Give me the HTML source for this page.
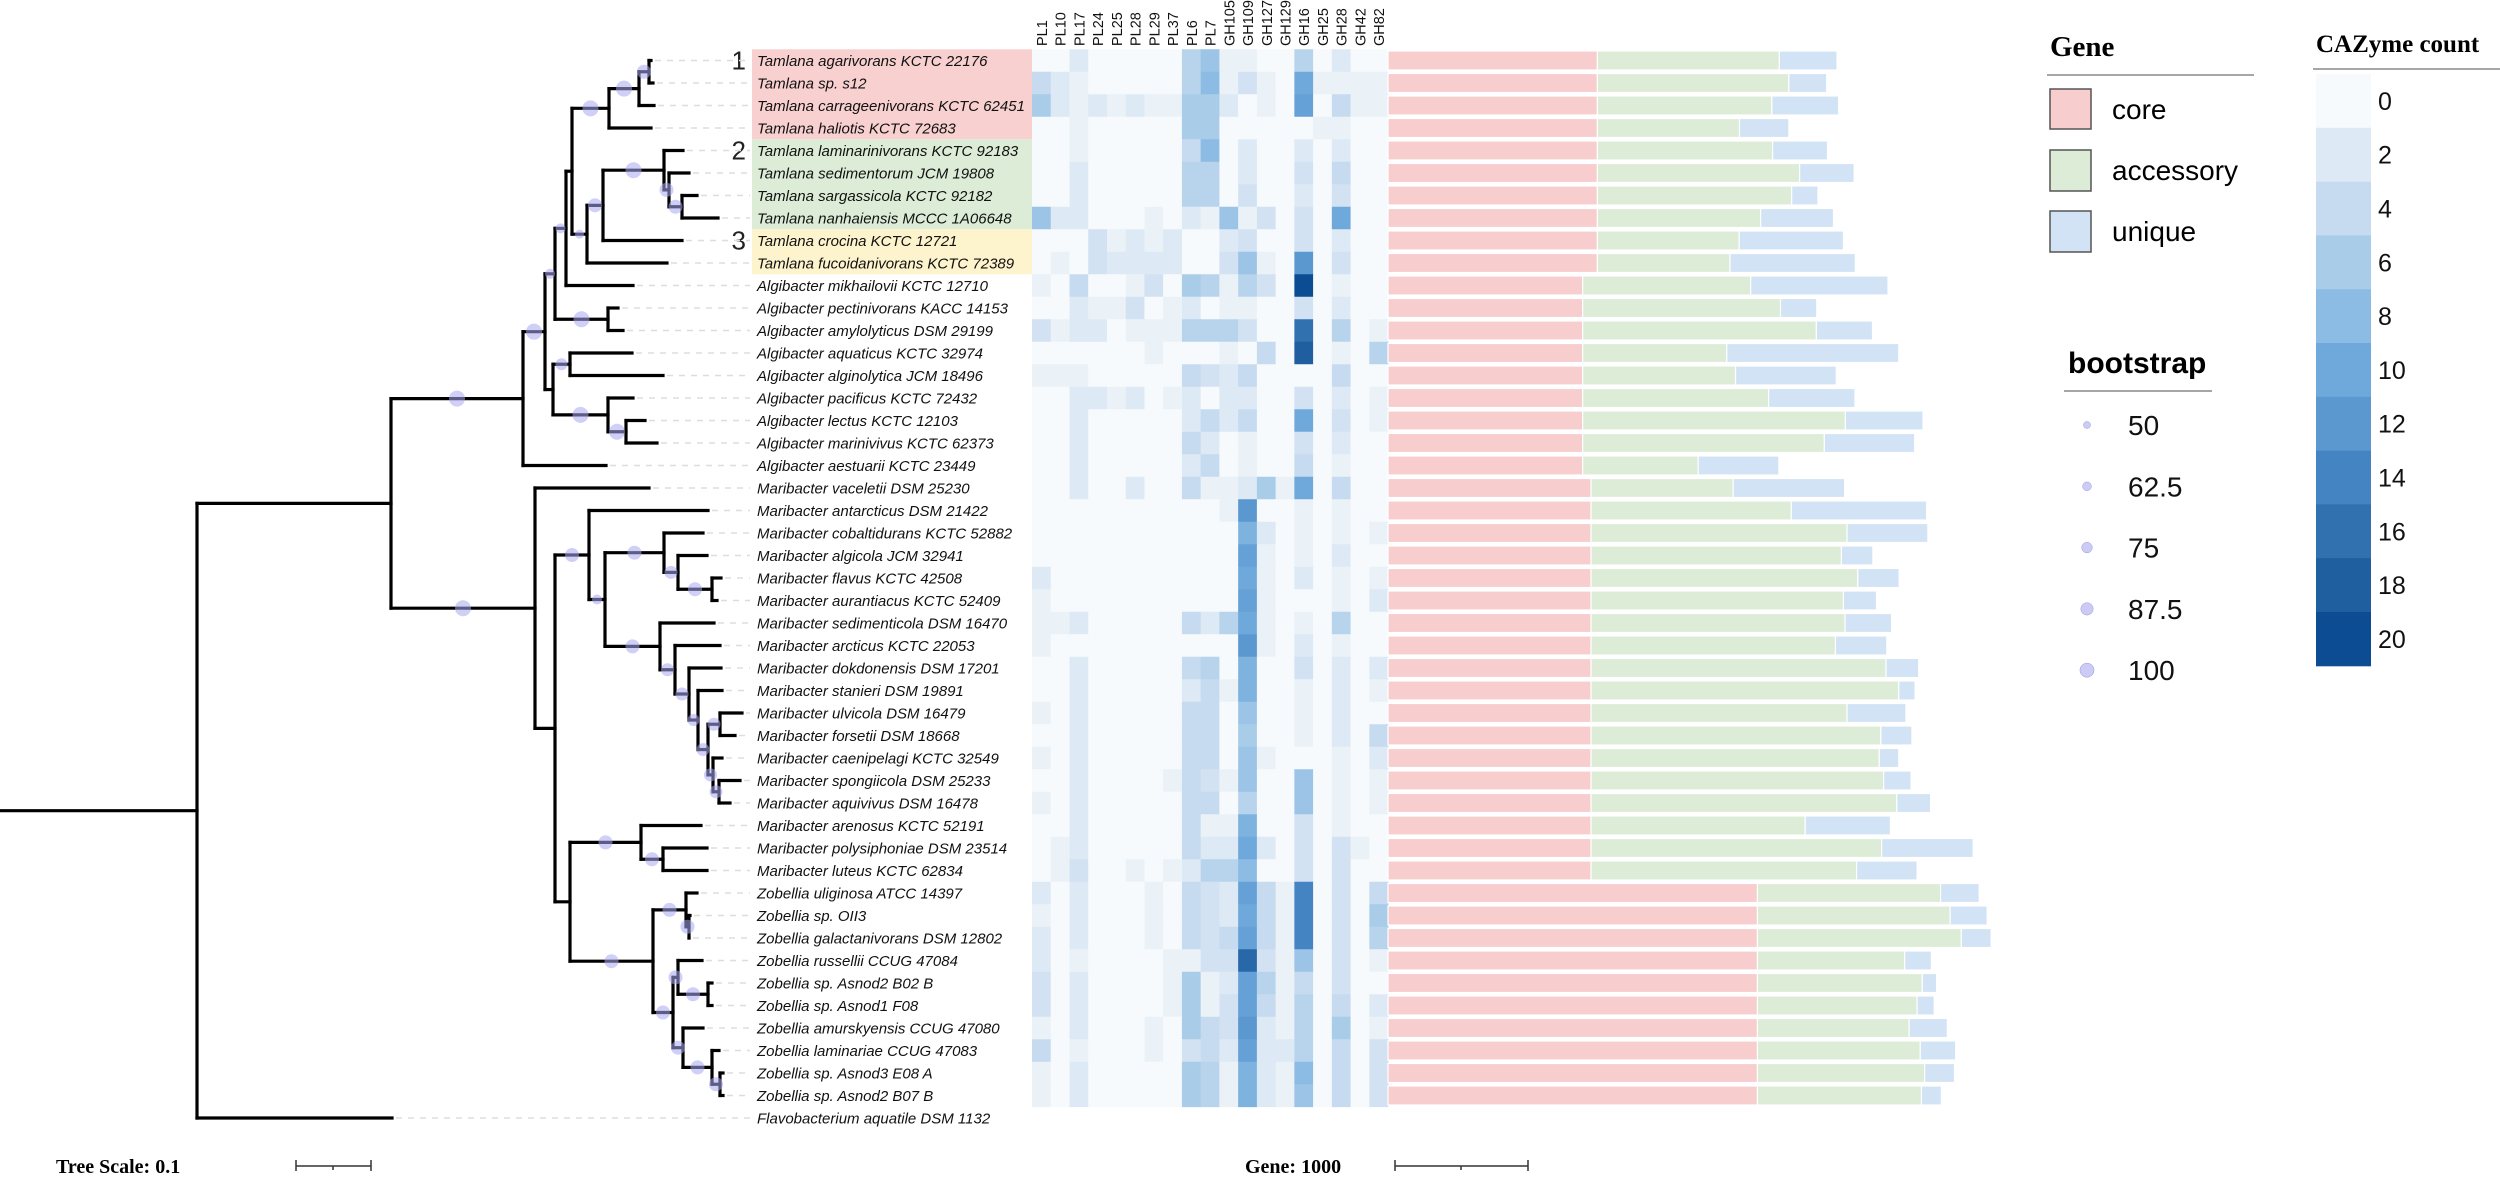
<!DOCTYPE html>
<html><head><meta charset="utf-8">
<style>
html,body{margin:0;padding:0;background:#fff;}
svg{display:block;font-family:"Liberation Sans",sans-serif;}
</style></head>
<body>
<svg id="fig" width="2500" height="1185" viewBox="0 0 2500 1185" xmlns="http://www.w3.org/2000/svg">
  <g id="clades"></g>
  <g id="tree"></g>
  <g id="labels"></g>
  <g id="heat"></g>
  <g id="bars"></g>
  <g id="legend-gene">
    <text x="2050" y="56" style="font-family:'Liberation Serif',serif;font-weight:bold;font-size:29px">Gene</text>
    <line x1="2047" y1="75" x2="2254" y2="75" stroke="#888" stroke-width="1.5"/>
    <rect x="2050" y="89" width="41" height="40" fill="#f7cdcd" stroke="#555" stroke-width="1.5"/>
    <text x="2112" y="119" font-size="28">core</text>
    <rect x="2050" y="150" width="41" height="41" fill="#dcecd6" stroke="#555" stroke-width="1.5"/>
    <text x="2112" y="180" font-size="28">accessory</text>
    <rect x="2050" y="211" width="41" height="41" fill="#d1e3f5" stroke="#555" stroke-width="1.5"/>
    <text x="2112" y="241" font-size="28">unique</text>
  </g>
  <g id="legend-bs">
    <text x="2068" y="373" font-weight="bold" font-size="30">bootstrap</text>
    <line x1="2064" y1="391" x2="2212" y2="391" stroke="#888" stroke-width="1.5"/>
  </g>
  <g id="legend-cb">
    <text x="2316" y="52" style="font-family:'Liberation Serif',serif;font-weight:bold;font-size:25px">CAZyme count</text>
    <line x1="2313" y1="69" x2="2500" y2="69" stroke="#888" stroke-width="1.5"/>
  </g>
  <g id="scales">
    <text x="56" y="1173" style="font-family:'Liberation Serif',serif;font-weight:bold;font-size:20px">Tree Scale: 0.1</text>
    <path d="M296 1160 V1171 M296 1166 H371 M371 1160 V1171 M333 1166 V1170" stroke="#333" stroke-width="1.5" fill="none"/>
    <text x="1245" y="1173" style="font-family:'Liberation Serif',serif;font-weight:bold;font-size:20px">Gene: 1000</text>
    <path d="M1395 1160 V1171 M1395 1166 H1528 M1528 1160 V1171 M1461 1166 V1170" stroke="#333" stroke-width="1.5" fill="none"/>
  </g>
</svg>
<script>
// ---------------- data ----------------
const taxa = ["Tamlana agarivorans KCTC 22176","Tamlana sp. s12","Tamlana carrageenivorans KCTC 62451","Tamlana haliotis KCTC 72683","Tamlana laminarinivorans KCTC 92183","Tamlana sedimentorum JCM 19808","Tamlana sargassicola KCTC 92182","Tamlana nanhaiensis MCCC 1A06648","Tamlana crocina KCTC 12721","Tamlana fucoidanivorans KCTC 72389","Algibacter mikhailovii KCTC 12710","Algibacter pectinivorans KACC 14153","Algibacter amylolyticus DSM 29199","Algibacter aquaticus KCTC 32974","Algibacter alginolytica JCM 18496","Algibacter pacificus KCTC 72432","Algibacter lectus KCTC 12103","Algibacter marinivivus KCTC 62373","Algibacter aestuarii KCTC 23449","Maribacter vaceletii DSM 25230","Maribacter antarcticus DSM 21422","Maribacter cobaltidurans KCTC 52882","Maribacter algicola JCM 32941","Maribacter flavus KCTC 42508","Maribacter aurantiacus KCTC 52409","Maribacter sedimenticola DSM 16470","Maribacter arcticus KCTC 22053","Maribacter dokdonensis DSM 17201","Maribacter stanieri DSM 19891","Maribacter ulvicola DSM 16479","Maribacter forsetii DSM 18668","Maribacter caenipelagi KCTC 32549","Maribacter spongiicola DSM 25233","Maribacter aquivivus DSM 16478","Maribacter arenosus KCTC 52191","Maribacter polysiphoniae DSM 23514","Maribacter luteus KCTC 62834","Zobellia uliginosa ATCC 14397","Zobellia sp. OII3","Zobellia galactanivorans DSM 12802","Zobellia russellii CCUG 47084","Zobellia sp. Asnod2 B02 B","Zobellia sp. Asnod1 F08","Zobellia amurskyensis CCUG 47080","Zobellia laminariae CCUG 47083","Zobellia sp. Asnod3 E08 A","Zobellia sp. Asnod2 B07 B","Flavobacterium aquatile DSM 1132"];
const families = ["PL1","PL10","PL17","PL24","PL25","PL28","PL29","PL37","PL6","PL7","GH105","GH109","GH127","GH129","GH16","GH25","GH28","GH42","GH82"];
const counts = [
[0,0,2,0,0,0,0,0,5,7,1,1,0,0,5,0,2,0,0],
[4,2,1,0,0,0,0,0,5,8,1,3,1,0,10,1,1,1,1],
[6,2,1,2,1,2,1,1,6,6,2,0,1,0,11,0,4,1,1],
[0,0,1,0,0,0,0,0,6,6,0,0,0,0,0,1,1,0,0],
[0,0,1,0,0,0,0,0,4,8,0,2,0,0,2,0,2,0,0],
[0,0,2,0,0,0,0,0,5,5,0,2,0,0,3,0,4,0,0],
[0,0,2,0,0,0,0,0,5,5,0,3,0,0,2,0,3,0,0],
[7,2,2,0,0,0,1,0,2,1,7,1,3,0,3,0,10,0,0],
[0,0,0,3,1,2,1,2,0,0,2,3,0,0,3,0,2,0,0],
[0,1,0,3,2,2,2,2,0,0,3,7,1,0,12,0,3,0,0],
[1,0,4,0,0,1,3,0,6,5,1,5,3,0,20,0,1,0,0],
[0,0,2,1,1,3,0,1,2,0,1,1,0,0,3,0,2,0,0],
[3,1,2,2,0,1,1,1,5,5,5,3,0,0,16,0,5,0,1],
[0,0,0,0,0,0,1,0,0,0,1,0,4,0,18,0,1,0,5],
[1,1,1,0,0,0,0,0,4,3,2,4,0,0,0,0,4,0,0],
[0,0,2,2,1,2,0,1,2,0,2,2,0,0,3,0,2,0,1],
[0,0,2,0,0,0,0,0,2,4,2,4,0,0,10,0,3,0,1],
[0,0,2,0,0,0,0,0,4,2,0,1,0,0,3,0,2,0,0],
[0,0,2,0,0,0,0,0,2,4,0,1,0,0,4,0,1,0,0],
[0,0,2,0,0,2,0,0,4,1,1,2,6,1,10,0,4,0,0],
[0,0,0,0,0,0,0,0,0,0,1,12,0,0,1,0,1,0,0],
[0,0,0,0,0,0,0,0,0,0,0,9,2,0,1,0,1,0,1],
[0,0,0,0,0,0,0,0,0,0,0,11,1,0,1,0,2,0,0],
[2,0,0,0,0,0,0,0,0,0,0,10,1,0,2,0,1,0,1],
[1,0,0,0,0,0,0,0,0,0,0,11,1,0,0,0,1,0,2],
[1,1,2,0,0,0,0,0,4,2,5,10,1,0,1,0,5,0,0],
[1,0,0,0,0,0,0,0,0,0,0,12,1,0,2,0,1,0,0],
[0,0,2,0,0,0,0,0,4,5,0,9,0,0,3,0,2,0,2],
[0,0,2,0,0,0,0,0,2,4,1,9,0,0,1,0,2,0,1],
[1,0,2,0,0,0,0,0,4,4,0,7,0,0,1,0,2,0,0],
[0,0,2,0,0,0,0,0,4,4,0,6,0,0,1,0,2,0,4],
[1,0,2,0,0,0,0,0,4,4,0,7,1,0,0,0,1,0,2],
[0,0,2,0,0,0,0,1,4,3,1,7,0,0,7,0,1,0,1],
[1,0,2,0,0,0,0,0,4,4,0,5,0,0,7,0,1,0,1],
[0,0,2,0,0,0,0,0,4,1,1,9,0,0,3,0,1,0,0],
[0,1,2,0,0,0,0,0,4,2,2,10,2,0,3,0,3,1,0],
[0,1,3,0,0,1,0,1,2,5,5,8,0,0,3,0,3,0,0],
[2,0,2,0,0,0,1,0,4,3,2,11,4,1,14,0,3,0,4],
[1,0,2,0,0,0,1,0,4,3,2,10,4,1,14,0,3,0,6],
[2,0,2,0,0,0,1,0,4,3,4,11,4,1,14,0,3,0,5],
[2,0,1,0,0,0,0,1,1,3,3,17,3,1,7,0,3,0,1],
[3,0,2,0,0,0,0,1,6,1,2,11,5,1,4,0,3,0,0],
[3,0,2,0,0,0,0,1,6,1,3,11,4,1,5,0,4,0,2],
[1,0,2,0,0,0,1,0,6,4,3,12,2,1,5,0,6,0,1],
[4,0,1,0,0,0,1,0,3,4,2,11,2,2,5,0,4,0,3],
[1,0,2,0,0,0,0,0,6,5,1,9,2,1,8,0,4,0,3],
[1,0,2,0,0,0,0,0,6,5,1,9,2,1,7,0,4,0,3]
];
const coreGenes = [1578,1578,1578,1578,1578,1578,1578,1578,1578,1578,1467,1467,1467,1467,1467,1467,1467,1467,1467,1530,1530,1530,1530,1530,1530,1530,1530,1530,1530,1530,1530,1530,1530,1530,1530,1530,1530,2784,2784,2784,2784,2784,2784,2784,2784,2784,2784];
const accessoryGenes = [1371,1443,1314,1071,1320,1524,1464,1230,1068,999,1266,1491,1761,1086,1152,1401,1980,1821,870,1071,1509,1929,1887,2010,1902,1914,1842,2223,2319,1929,2184,2172,2205,2304,1614,2190,2001,1380,1452,1536,1110,1242,1203,1143,1227,1260,1236];
const uniqueGenes = [435,285,504,372,414,411,198,549,786,945,1035,273,423,1296,759,651,585,681,609,840,1020,609,237,312,249,351,387,246,123,444,234,147,207,255,642,690,456,291,279,225,201,108,129,288,267,225,150];
const colorTicks = [0,2,4,6,8,10,12,14,16,18,20];
const bootstrapLevels = [50,62.5,75,87.5,100];

const L=(r,x)=>({r,x});
const N=(x,b,c)=>({x,b,c});
const tree = N(197,0,[
  N(391,0,[
    N(523,8,[
      N(545,8,[
        N(555,5,[
          N(566,5,[
            N(572,0,[
              N(609,8,[ N(639,8,[ N(649,7,[L(0,651),L(1,653)]), L(2,654)]), L(3,651)]),
              N(587,4.5,[ N(603,7,[ N(664,8,[L(4,683), N(669,7,[L(5,689), N(682,7,[L(6,697),L(7,718)])])]), L(8,682)]), L(9,667)])
            ]),
            L(10,633)
          ]),
          N(608,8,[L(11,618),L(12,623)])
        ]),
        N(553,0,[
          N(570,6,[L(13,632),L(14,663)]),
          N(608,8,[L(15,633), N(626,8,[L(16,645),L(17,657)])])
        ])
      ]),
      L(18,606)
    ]),
    N(535,8,[
      L(19,649),
      N(555,0,[
        N(589,7,[
          L(20,708),
          N(605,5,[
            N(664,7,[L(21,703), N(678,6.5,[L(22,707), N(712,7,[L(23,721),L(24,717)])])]),
            N(660,7,[L(25,714), N(675,6.5,[L(26,720), N(689,6.5,[L(27,721), N(698,6,[L(28,722),
              N(708,6.5,[ N(720,6.5,[L(29,742),L(30,735)]), N(713,6.5,[L(31,722), N(719,6.5,[L(32,740),L(33,730)])])])])])])])
          ])
        ]),
        N(570,0,[
          N(641,7,[L(34,701), N(663,7,[L(35,707),L(36,707)])]),
          N(653,7,[
            N(686,7,[L(37,697), N(689,7,[L(38,690),L(39,689)])]),
            N(673,7,[
              N(678,7,[L(40,702), N(708,7,[L(41,712),L(42,712)])]),
              N(683,7,[L(43,703), N(712,7,[L(44,719), N(720,7,[L(45,723),L(46,723)])])])
            ])
          ])
        ])
      ])
    ])
  ]),
  L(47,392)
]);

// ---------------- scales ----------------
const NS="http://www.w3.org/2000/svg";
const rowY = i => 60.5 + 22.5*i;
const heatX0 = 1032, cellW = 18.74, cellH = 22.5;
const colX = j => heatX0 + cellW*j;
const barX0 = 1388, pxPerGene = 0.1327;
const geneX = g => g*pxPerGene;
const stops = ["#f7fafc","#dde9f4","#c6dbef","#a9cce8","#8cbce3","#6fa9dc","#5a98cf","#4584c2","#3171b0","#1f5fa0","#0b4c92"];
function hex(c){return [1,3,5].map(i=>parseInt(c.substr(i,2),16));}
function colorOf(v){
  const t=Math.max(0,Math.min(20,v))/2, i=Math.min(9,Math.floor(t)), f=t-i;
  const a=hex(stops[i]), b=hex(stops[i+1]);
  return "rgb("+a.map((x,k)=>Math.round(x+(b[k]-x)*f)).join(",")+")";
}
function mk(tag,attrs,parent){const e=document.createElementNS(NS,tag);for(const k in attrs)e.setAttribute(k,attrs[k]);parent.appendChild(e);return e;}

// ---------------- clade highlight ----------------
const gC=document.getElementById("clades");
[[0,3,"#f8d0d0","1"],[4,7,"#dcecd6","2"],[8,9,"#fdf3cc","3"]].forEach(([a,b,col,lab])=>{
  const r=mk("rect",{x:752,y:rowY(a)-11.25,width:280,height:(b-a+1)*22.5,fill:col},gC);
  
  
  const t=mk("text",{x:746,y:rowY(a)+9,"text-anchor":"end","font-size":"26",fill:"#222"},gC);
  t.textContent=lab;
  
  
});

// ---------------- tree ----------------
const gT=document.getElementById("tree");
const circles=[];
function layout(n){
  if(n.c){n.c.forEach(layout); n.y=(n.c[0].y+n.c[n.c.length-1].y)/2;}
  else n.y=rowY(n.r);
}
layout(tree);
function draw(n,px){
  mk("line",{x1:px,y1:n.y,x2:n.x,y2:n.y,stroke:"#000","stroke-width":3.2,"stroke-linecap":"square"},gT);
  if(n.c){
    mk("line",{x1:n.x,y1:n.c[0].y,x2:n.x,y2:n.c[n.c.length-1].y,stroke:"#000","stroke-width":3.2,"stroke-linecap":"square"},gT);
    if(n.b>0) circles.push([(px+n.x)/2,n.y,n.b]);
    n.c.forEach(ch=>draw(ch,n.x));
  } else {
    const d=mk("line",{x1:n.x+4,y1:n.y,x2:750,y2:n.y,stroke:"#ddd","stroke-width":1.5,"stroke-dasharray":"6,6"},gT);
    
    
  }
}
draw(tree,0);
circles.forEach(([x,y,r])=>{
  const c=mk("circle",{cx:x,cy:y,r:r,fill:"#a8a8f0","fill-opacity":0.55},gT);
  
  
});

// ---------------- labels ----------------
const gL=document.getElementById("labels");
taxa.forEach((t,i)=>{
  const e=mk("text",{x:757,y:rowY(i)+5.5,"font-size":"15","font-style":"italic",fill:"#111"},gL);
  e.textContent=t;
  
  
});

// ---------------- heatmap ----------------
const gH=document.getElementById("heat");
families.forEach((f,j)=>{
  const cx=colX(j)+cellW/2+5.5;
  const t=mk("text",{x:cx,y:46,"font-size":"14.5",transform:"rotate(-90 "+cx+" 46)",fill:"#111"},gH);
  t.textContent=f;
  
  
});
counts.forEach((row,i)=>{
  row.forEach((v,j)=>{
    const r=mk("rect",{x:colX(j),y:rowY(i)-cellH/2,width:cellW+0.4,height:cellH+0.4,fill:colorOf(v)},gH);
    
    
  });
});

// ---------------- gene bars ----------------
const gB=document.getElementById("bars");
coreGenes.forEach((c,i)=>{
  const y=rowY(i)-9.5, h=19;
  let x=barX0;
  [[c,"#f7cdcd","core"],[accessoryGenes[i],"#dcecd6","accessory"],[uniqueGenes[i],"#d1e3f5","unique"]].forEach(([g,col,nm])=>{
    const w=geneX(g);
    const r=mk("rect",{x:x,y:y,width:w,height:h,fill:col,stroke:"#fff","stroke-width":1.2},gB);
    
    
    x+=w;
  });
});

// ---------------- colorbar ----------------
const gCB=document.getElementById("legend-cb");
const bandH=53.8;
colorTicks.forEach((v,k)=>{
  const r=mk("rect",{x:2316,y:74+k*bandH,width:55,height:bandH+0.5,fill:colorOf(v)},gCB);
  
  
  const t=mk("text",{x:2378,y:74+k*bandH+bandH/2+9,"font-size":"25",fill:"#111"},gCB);
  t.textContent=String(v);
  
  
});

// ---------------- bootstrap legend ----------------
const gBS=document.getElementById("legend-bs");
bootstrapLevels.forEach((v,k)=>{
  const y=425+k*61.3;
  const c=mk("circle",{cx:2087,cy:y,r:3.5+k*0.9,fill:"#a8a8f0","fill-opacity":0.6,stroke:"#9a9ae0","stroke-width":0.5},gBS);
  
  
  const t=mk("text",{x:2128,y:y+10,"font-size":"28",fill:"#111"},gBS);
  t.textContent=String(v);
  
  
});
</script>
</body></html>
